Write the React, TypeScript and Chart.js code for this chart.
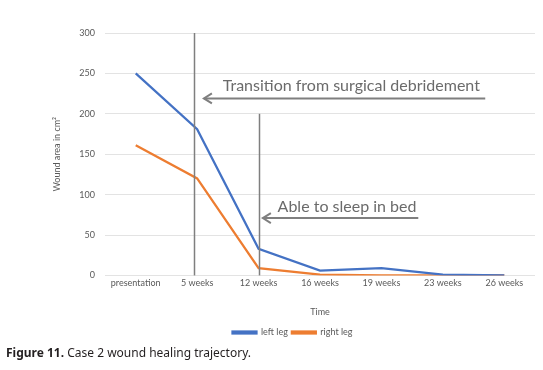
import React, { useEffect, useRef } from "react";
import { Chart, registerables } from "chart.js";

Chart.register(...registerables);

const categories = ["presentation", "5 weeks", "12 weeks", "16 weeks", "19 weeks", "23 weeks", "26 weeks"];
const leftLeg = [250, 181, 33, 6, 9, 1, 0];
const rightLeg = [161, 120, 9, 1, 0, 0, 0];
const yTicks = [0, 50, 100, 150, 200, 250, 300];

// annotation definitions (in data units: category index / value)
const vLines = [
  { x: 0.95, yTop: 300 },
  { x: 2, yTop: 200 },
];
const arrows = [
  { label: "Transition from surgical debridement", from: 5.69, to: 1.11, y: 219, textX: 3.51, textY: 234 },
  { label: "Able to sleep in bed", from: 4.6, to: 2.07, y: 71, textX: 3.44, textY: 85 },
];

const FONT = "Lato, 'Noto Sans', sans-serif";
const GRAY = "#7f7f7f";

const annotationPlugin = {
  id: "annot",
  afterDatasetsDraw(chart: any) {
    const { ctx, scales } = chart;
    const xs = scales.x;
    const ys = scales.y;
    ctx.save();
    ctx.strokeStyle = GRAY;
    ctx.lineWidth = 1.5;
    vLines.forEach((v) => {
      const x = Math.round(xs.getPixelForValue(v.x)) + 0.5;
      ctx.beginPath();
      ctx.moveTo(x, ys.getPixelForValue(v.yTop));
      ctx.lineTo(x, ys.getPixelForValue(0));
      ctx.stroke();
    });
    arrows.forEach((a) => {
      const x1 = xs.getPixelForValue(a.from);
      const x2 = xs.getPixelForValue(a.to);
      const y = ys.getPixelForValue(a.y);
      ctx.lineWidth = 2;
      ctx.beginPath();
      ctx.moveTo(x1, y);
      ctx.lineTo(x2, y);
      ctx.stroke();
      ctx.beginPath();
      ctx.moveTo(x2 + 8, y - 5);
      ctx.lineTo(x2, y);
      ctx.lineTo(x2 + 8, y + 5);
      ctx.stroke();
      ctx.fillStyle = "#6b6b6b";
      ctx.font = `16px ${FONT}`;
      ctx.textAlign = "center";
      ctx.textBaseline = "middle";
      ctx.fillText(a.label, xs.getPixelForValue(a.textX), ys.getPixelForValue(a.textY));
    });
    ctx.restore();
  },
};

export default function App() {
  const ref = useRef<HTMLCanvasElement>(null);
  useEffect(() => {
    if (!ref.current) return;
    const chart = new Chart(ref.current, {
      type: "line",
      data: {
        labels: categories,
        datasets: [
          {
            label: "left leg",
            data: leftLeg,
            borderColor: "#4472C4",
            backgroundColor: "#4472C4",
            borderWidth: 2.25,
            pointRadius: 0,
            tension: 0,
          },
          {
            label: "right leg",
            data: rightLeg,
            borderColor: "#ED7D31",
            backgroundColor: "#ED7D31",
            borderWidth: 2.25,
            pointRadius: 0,
            tension: 0,
          },
        ],
      },
      options: {
        animation: false,
        responsive: false,
        maintainAspectRatio: false,
        layout: { padding: { left: 50, right: 8, top: 33, bottom: 23 } },
        plugins: {
          tooltip: { enabled: false },
          legend: {
            position: "bottom",
            labels: {
              boxWidth: 24,
              boxHeight: 2,
              color: "#595959",
              font: { family: FONT, size: 9 },
              padding: 4,
            },
          },
        },
        scales: {
          x: {
            offset: true,
            grid: { display: false, drawTicks: false },
            border: { display: false },
            ticks: { color: "#595959", font: { family: FONT, size: 9 }, maxRotation: 0, autoSkip: false, padding: 2 },
            title: { display: true, text: "Time", color: "#595959", font: { family: FONT, size: 9 }, padding: { top: 16, bottom: 7 } },
          },
          y: {
            min: 0,
            max: 300,
            afterBuildTicks: (s: any) => {
              s.ticks = yTicks.map((v) => ({ value: v }));
            },
            afterFit: (s: any) => {
              s.width = 55;
            },
            grid: { color: "#e3e3e3", lineWidth: 1, drawTicks: false },
            border: { display: false },
            ticks: { color: "#595959", font: { family: FONT, size: 9 }, padding: 10 },
            title: { display: true, text: "Wound area in cm²", color: "#595959", font: { family: FONT, size: 9 }, padding: 2 },
          },
        },
      },
      plugins: [annotationPlugin],
    });
    return () => chart.destroy();
  }, []);
  return (
    <div style={{ position: "absolute", left: 0, top: 0, width: 543, height: 370, background: "#fff" }}>
      <canvas ref={ref} width={543} height={370} style={{ position: "absolute", left: 0, top: 0 }} />
      <div
        style={{
          position: "absolute",
          left: 6,
          top: 344,
          fontFamily: "'Noto Sans', sans-serif",
          fontSize: 12,
          color: "#231f20",
          whiteSpace: "nowrap",
        }}
      >
        <b>Figure 11.</b> Case 2 wound healing trajectory.
      </div>
    </div>
  );
}
